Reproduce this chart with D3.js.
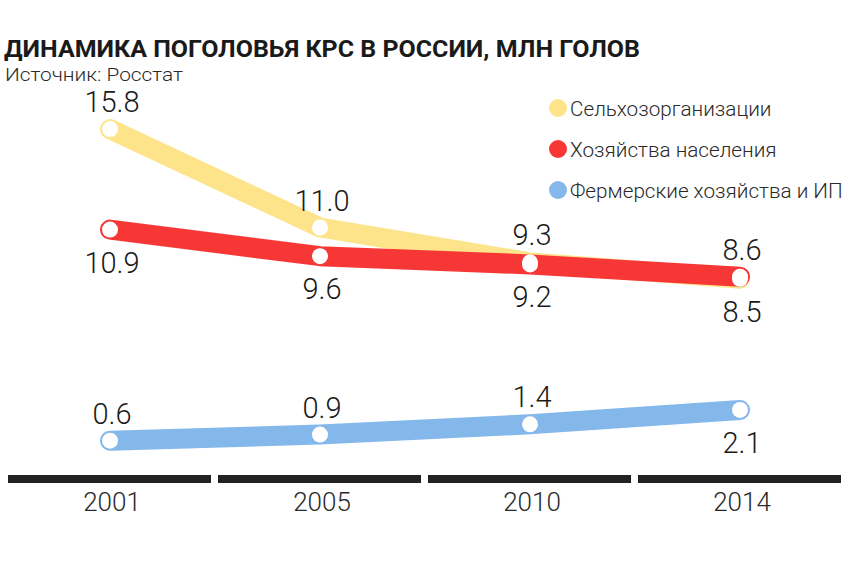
<!DOCTYPE html>
<html><head><meta charset="utf-8">
<script src="https://cdn.jsdelivr.net/npm/d3@7"></script>
<style>
html,body{margin:0;padding:0;background:#fff;}
svg{display:block;}
</style></head>
<body>
<svg id="chart" width="850" height="566"></svg>
<script>
const title = "ДИНАМИКА ПОГОЛОВЬЯ КРС В РОССИИ, МЛН ГОЛОВ";
const source = "Источник: Росстат";
const years = ["2001", "2005", "2010", "2014"];
const seriesNames = ["Сельхозорганизации", "Хозяйства населения", "Фермерские хозяйства и ИП"];
const agroOrgs = [15.8, 11.0, 9.3, 8.5];
const households = [10.9, 9.6, 9.2, 8.6];
const farmers = [0.6, 0.9, 1.4, 2.1];
const colors = ["#fde48a", "#f73636", "#84b8ea"];

const series = [
  {name: seriesNames[0], values: agroOrgs, color: colors[0]},
  {name: seriesNames[1], values: households, color: colors[1]},
  {name: seriesNames[2], values: farmers, color: colors[2]}
];

const FONT = "Roboto, 'Noto Sans', sans-serif";
const svg = d3.select("#chart");
const x = d3.scaleBand().domain(years).range([5, 845]);
const cx = d => x(d) + x.bandwidth() / 2;
const y = d3.scaleLinear().domain([0, 16]).range([453, 125]);

// Title
svg.append("text").attr("x", 4).attr("y", 57)
  .attr("font-family", FONT)
  .attr("font-weight", 700).attr("font-size", 24).attr("fill", "#1a1a1a")
  .attr("textLength", 636).attr("lengthAdjust", "spacingAndGlyphs")
  .text(title);
svg.append("text").attr("x", 5).attr("y", 81)
  .attr("font-family", FONT)
  .attr("font-weight", 300).attr("font-size", 19).attr("fill", "#2a2a2a")
  .attr("textLength", 178).attr("lengthAdjust", "spacingAndGlyphs")
  .text(source);

// Legend
const leg = svg.append("g");
series.forEach((s, i) => {
  const ly = 108 + i * 41;
  leg.append("circle").attr("cx", 558).attr("cy", ly).attr("r", 9).attr("fill", s.color);
  leg.append("text").attr("x", 570).attr("y", ly + 7.5)
    .attr("font-family", FONT)
    .attr("font-weight", 300).attr("font-size", 20.7).attr("fill", "#2a2a2a")
    .text(s.name);
});

// Axis bars + year labels
const axis = svg.append("g");
axis.selectAll("rect").data(years).join("rect")
  .attr("x", d => x(d) + 3).attr("width", x.bandwidth() - 7)
  .attr("y", 475).attr("height", 8).attr("fill", "#222");
axis.selectAll("text").data(years).join("text")
  .attr("x", d => cx(d) + 2).attr("y", 511).attr("text-anchor", "middle")
  .attr("font-family", FONT)
  .attr("font-weight", 300).attr("font-size", 26).attr("fill", "#2a2a2a")
  .text(d => d);

// Lines
const line = d3.line().x((d, i) => cx(years[i])).y(d => y(d));
series.forEach(s => {
  svg.append("path").datum(s.values)
    .attr("d", line).attr("fill", "none").attr("stroke", s.color)
    .attr("stroke-width", 20).attr("stroke-linecap", "round").attr("stroke-linejoin", "round");
});
series.forEach(s => {
  const g = svg.append("g");
  g.selectAll("circle").data(s.values).join("circle")
    .attr("cx", (d, i) => cx(years[i])).attr("cy", d => y(d)).attr("r", 8)
    .attr("fill", "#fff");
});

// Labels
const fmt = d3.format(".1f");
series.forEach((s, si) => {
  s.values.forEach((v, i) => {
    const vals = series.map(t => t.values[i]);
    const sorted = vals.slice().sort((a, b) => b - a);
    const rank = sorted.indexOf(v);
    let above;
    if (rank === 0) above = true;
    else if (rank === 1) above = false;
    else above = i < s.values.length - 1;
    svg.append("text")
      .attr("x", cx(years[i]) + 2)
      .attr("y", above ? y(v) - 17 : y(v) + 43)
      .attr("text-anchor", "middle")
      .attr("font-family", FONT)
      .attr("font-weight", 300).attr("font-size", 29).attr("fill", "#1a1a1a")
      .text(fmt(v));
  });
});
</script>
</body></html>
